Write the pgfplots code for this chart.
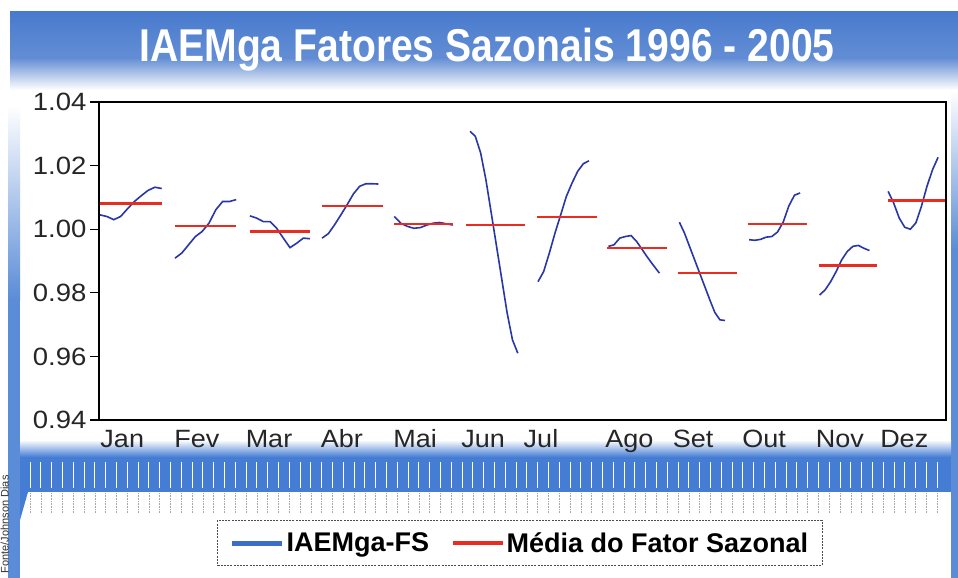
\documentclass[border=0pt]{standalone}
\usepackage{fontspec}
\setmainfont{Liberation Sans}
\usepackage{pgfplots}
\usepackage{pgfplotstable}
\pgfplotsset{compat=1.18}
\definecolor{titleblue}{RGB}{72,122,205}
\definecolor{bandblue}{RGB}{70,125,212}
\definecolor{stripeblue}{RGB}{90,140,215}
\definecolor{dblue}{RGB}{40,55,165}
\definecolor{legblue}{RGB}{60,110,200}
\definecolor{dred}{RGB}{232,45,32}

% s = start, d = step, j = index, y = value
\pgfplotstableread{
s d j y
0.17 1.15 0 1.0045
0.17 1.15 1 1.0040
0.17 1.15 2 1.0030
0.17 1.15 3 1.0040
0.17 1.15 4 1.0064
0.17 1.15 5 1.0087
0.17 1.15 6 1.0105
0.17 1.15 7 1.0122
0.17 1.15 8 1.0132
0.17 1.15 9 1.0128
0 0 0 nan
12.74 1.14 0 0.9909
12.74 1.14 1 0.9925
12.74 1.14 2 0.9951
12.74 1.14 3 0.9977
12.74 1.14 4 0.9993
12.74 1.14 5 1.0019
12.74 1.14 6 1.0061
12.74 1.14 7 1.0087
12.74 1.14 8 1.0087
12.74 1.14 9 1.0093
0 0 0 nan
25.3 1.12 0 1.0042
25.3 1.12 1 1.0035
25.3 1.12 2 1.0024
25.3 1.12 3 1.0024
25.3 1.12 4 1.0003
25.3 1.12 5 0.9972
25.3 1.12 6 0.9942
25.3 1.12 7 0.9956
25.3 1.12 8 0.9972
25.3 1.12 9 0.9970
0 0 0 nan
37.4 1.05 0 0.9972
37.4 1.05 1 0.9986
37.4 1.05 2 1.0014
37.4 1.05 3 1.0045
37.4 1.05 4 1.0077
37.4 1.05 5 1.0111
37.4 1.05 6 1.0135
37.4 1.05 7 1.0143
37.4 1.05 8 1.0143
37.4 1.05 9 1.0142
0 0 0 nan
49.5 1.09 0 1.0040
49.5 1.09 1 1.0019
49.5 1.09 2 1.0009
49.5 1.09 3 1.0003
49.5 1.09 4 1.0005
49.5 1.09 5 1.0013
49.5 1.09 6 1.0019
49.5 1.09 7 1.0021
49.5 1.09 8 1.0017
49.5 1.09 9 1.0013
0 0 0 nan
62.2 0.89 0 1.0308
62.2 0.89 1 1.0292
62.2 0.89 2 1.0240
62.2 0.89 3 1.0155
62.2 0.89 4 1.0051
62.2 0.89 5 0.9946
62.2 0.89 6 0.9841
62.2 0.89 7 0.9736
62.2 0.89 8 0.9652
62.2 0.89 9 0.9610
0 0 0 nan
73.6 0.95 0 0.9835
73.6 0.95 1 0.9867
73.6 0.95 2 0.9925
73.6 0.95 3 0.9988
73.6 0.95 4 1.0045
73.6 0.95 5 1.0103
73.6 0.95 6 1.0145
73.6 0.95 7 1.0182
73.6 0.95 8 1.0206
73.6 0.95 9 1.0215
0 0 0 nan
85.4 0.95 0 0.9946
85.4 0.95 1 0.9951
85.4 0.95 2 0.9972
85.4 0.95 3 0.9977
85.4 0.95 4 0.9980
85.4 0.95 5 0.9961
85.4 0.95 6 0.9935
85.4 0.95 7 0.9909
85.4 0.95 8 0.9885
85.4 0.95 9 0.9862
0 0 0 nan
97.3 0.85 0 1.0022
97.3 0.85 1 0.9988
97.3 0.85 2 0.9946
97.3 0.85 3 0.9904
97.3 0.85 4 0.9862
97.3 0.85 5 0.9820
97.3 0.85 6 0.9778
97.3 0.85 7 0.9738
97.3 0.85 8 0.9715
97.3 0.85 9 0.9713
0 0 0 nan
109.0 0.95 0 0.9967
109.0 0.95 1 0.9965
109.0 0.95 2 0.9968
109.0 0.95 3 0.9975
109.0 0.95 4 0.9977
109.0 0.95 5 0.9991
109.0 0.95 6 1.0022
109.0 0.95 7 1.0073
109.0 0.95 8 1.0107
109.0 0.95 9 1.0114
0 0 0 nan
120.8 0.93 0 0.9793
120.8 0.93 1 0.9809
120.8 0.93 2 0.9835
120.8 0.93 3 0.9867
120.8 0.93 4 0.9904
120.8 0.93 5 0.9930
120.8 0.93 6 0.9946
120.8 0.93 7 0.9949
120.8 0.93 8 0.9940
120.8 0.93 9 0.9933
0 0 0 nan
132.3 0.93 0 1.0119
132.3 0.93 1 1.0082
132.3 0.93 2 1.0035
132.3 0.93 3 1.0006
132.3 0.93 4 1.0000
132.3 0.93 5 1.0020
132.3 0.93 6 1.0072
132.3 0.93 7 1.0135
132.3 0.93 8 1.0187
132.3 0.93 9 1.0226
}\fsdata

\pgfplotstableread{
x y
0.17 1.0081
10.6 1.0081
10.6 nan
12.74 1.0011
23.0 1.0011
23.0 nan
25.3 0.9993
35.4 0.9993
35.4 nan
37.4 1.0072
47.6 1.0072
47.6 nan
49.5 1.0016
59.3 1.0016
59.3 nan
61.5 1.0013
71.4 1.0013
71.4 nan
73.4 1.0038
83.5 1.0038
83.5 nan
85.2 0.9940
95.2 0.9940
95.2 nan
97.1 0.9863
107.0 0.9863
107.0 nan
108.8 1.0017
118.7 1.0017
118.7 nan
120.7 0.9886
130.4 0.9886
130.4 nan
132.3 1.0090
141.8 1.0090
}\meandata

\begin{document}
\begin{tikzpicture}
\useasboundingbox (0pt,0pt) rectangle (958pt,-578pt);
\fill[white] (0pt,0pt) rectangle (958pt,-578pt);
% title band
\shade[top color=titleblue, bottom color=titleblue!85] (10pt,-12pt) rectangle (958pt,-58pt);
\shade[top color=titleblue!85, bottom color=white] (10pt,-58pt) rectangle (958pt,-90pt);
\node[anchor=base, text=white, font=\bfseries\fontsize{46}{50}\selectfont] at (487pt,-62pt)
  {\scalebox{0.85}[1]{IAEMga Fatores Sazonais 1996 - 2005}};
% side stripes
\shade[top color=white, bottom color=stripeblue] (8pt,-105pt) rectangle (20pt,-300pt);
\fill[stripeblue] (8pt,-300pt) rectangle (20pt,-578pt);
\fill[bandblue] (20pt,-492pt) -- (28pt,-492pt) -- (20pt,-520pt) -- cycle;
\shade[top color=white, bottom color=stripeblue] (951pt,-90pt) rectangle (958pt,-250pt);
\fill[stripeblue] (951pt,-250pt) rectangle (958pt,-578pt);
% ruler band
\shade[top color=white, bottom color=bandblue] (20pt,-440pt) rectangle (951pt,-457pt);
\fill[bandblue] (20pt,-457pt) rectangle (951pt,-492pt);
\foreach \i in {0,...,84} {
  \draw[white, line width=0.9pt] ({30pt+10.8pt*\i},-462pt) -- ++(0pt,-26pt);
  \draw[black!35, line width=0.6pt, densely dotted] ({30pt+10.8pt*\i},-493pt) -- ++(0pt,-20pt);
}
\node[rotate=90, anchor=north west, inner sep=0.5pt, text=black!80, font=\fontsize{11}{13}\selectfont] at (0pt,-574pt) {Fonte/Johnson Dias};

\begin{axis}[
  scale only axis, width=847pt, height=318pt,
  at={(99pt,-420pt)}, anchor=south west,
  xmin=0, xmax=142, ymin=0.94, ymax=1.04,
  axis background/.style={fill=white},
  axis line style={line width=1.8pt, black},
  /pgf/number format/assume math mode=true,
  ytick pos=left,
  ytick={0.94,0.96,0.98,1.00,1.02,1.04},
  yticklabel={\scalebox{1.1}[1]{\pgfmathprintnumber[fixed,fixed zerofill,precision=2]{\tick}}},
  yticklabel style={font=\fontsize{25}{30}\selectfont, text=black!85},
  tick align=outside, major tick length=9pt,
  ytick style={line width=1.2pt, black},
  xtick={3.9,16.4,28.5,40.7,53,64.4,74.1,88.9,99.6,111.5,124.2,135},
  xticklabels={\scalebox{1.08}[1]{Jan},\scalebox{1.08}[1]{Fev},\scalebox{1.08}[1]{Mar},\scalebox{1.08}[1]{Abr},\scalebox{1.08}[1]{Mai},\scalebox{1.08}[1]{Jun},\scalebox{1.08}[1]{Jul},\scalebox{1.08}[1]{Ago},\scalebox{1.08}[1]{Set},\scalebox{1.08}[1]{Out},\scalebox{1.08}[1]{Nov},\scalebox{1.08}[1]{Dez}},
  xticklabel style={font=\fontsize{25}{30}\selectfont, text=black!85, text height=18pt, text depth=5pt, yshift=3pt},
  xtick style={draw=none},
  unbounded coords=jump,
  legend columns=2,
  legend style={at={(0.497,-0.387)}, anchor=center, draw=black!70, dash pattern=on 2pt off 1.2pt, line width=0.8pt,
    fill=white, font=\bfseries\fontsize{27}{32}\selectfont, inner xsep=12pt, inner ysep=10pt,
    /tikz/every even column/.append style={column sep=20pt}},
]
\addplot[dblue, line width=1.6pt, legend image code/.code={\draw[solid, line width=5pt, legblue] (0pt,0pt) -- (50pt,0pt);}]
  table[x expr=\thisrow{s}+\thisrow{d}*\thisrow{j}, y=y] {\fsdata};
\addlegendentry{IAEMga-FS}
\addplot[dred, line width=2.2pt, legend image code/.code={\draw[solid, line width=3.5pt, dred] (0pt,0pt) -- (50pt,0pt);}]
  table[x=x, y=y] {\meandata};
\addlegendentry{Média do Fator Sazonal}
\end{axis}
\end{tikzpicture}
\end{document}
